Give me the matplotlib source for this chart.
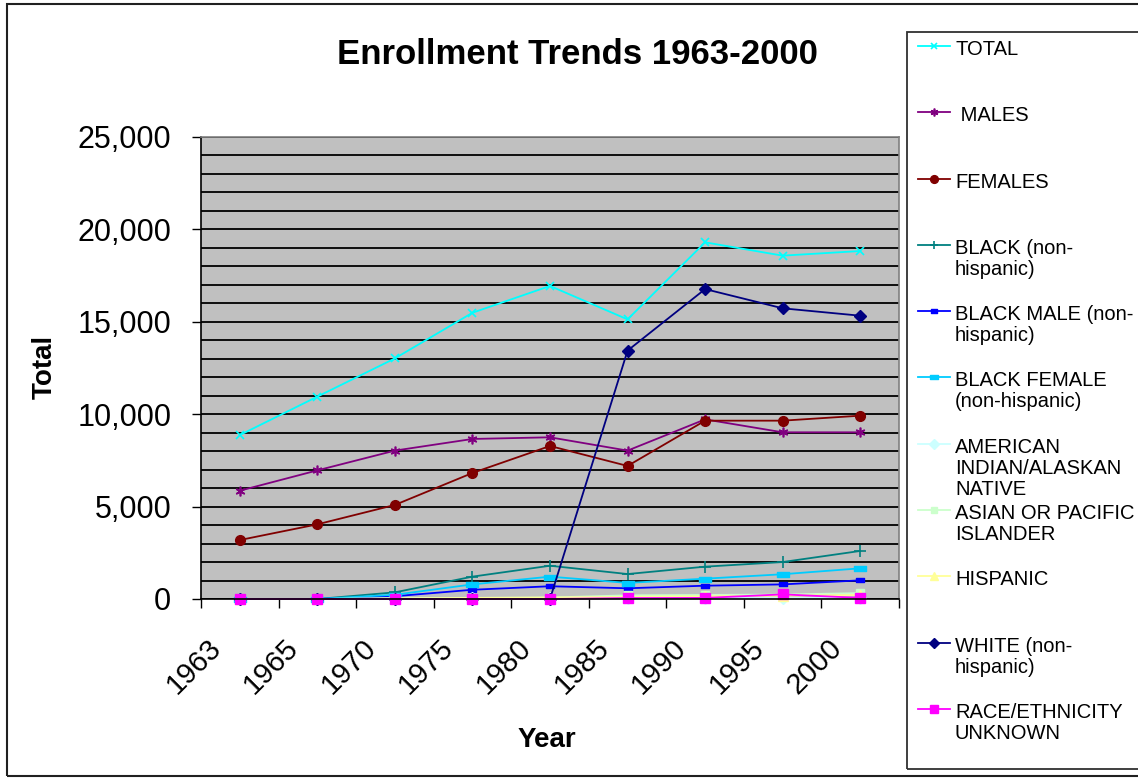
import matplotlib
matplotlib.use("Agg")
import matplotlib.pyplot as plt
import matplotlib.ticker as mticker
from matplotlib.lines import Line2D
from matplotlib.patches import Rectangle
from matplotlib.path import Path
import matplotlib.transforms as mtransforms

plt.rcParams['font.family'] = ['Liberation Sans', 'DejaVu Sans']

years = ["1963", "1965", "1970", "1975", "1980", "1985", "1990", "1995", "2000"]

total = [8870, 10950, 13020, 15490, 16940, 15130, 19300, 18580, 18830]
males = [5860, 6960, 8030, 8660, 8750, 8030, 9720, 9020, 9020]
females = [3190, 4040, 5090, 6820, 8280, 7200, 9650, 9650, 9920]
black = [0, 0, 360, 1210, 1800, 1350, 1750, 2000, 2600]
black_male = [0, 0, 150, 500, 690, 580, 720, 790, 1010]
black_female = [0, 0, 230, 790, 1210, 870, 1100, 1340, 1660]
american_indian = [0, 0, 20, 30, 40, 40, 50, 50, 60]
asian = [0, 0, 40, 60, 80, 200, 220, 240, 320]
hispanic = [0, 0, 30, 60, 80, 120, 150, 180, 220]
white = [0, 0, 0, 0, 0, 13440, 16770, 15730, 15330]
race_unknown = [0, 0, 0, 0, 0, 50, 60, 250, 60]

labels = ["TOTAL", " MALES", "FEMALES", "BLACK (non-\nhispanic)",
          "BLACK MALE (non-\nhispanic)", "BLACK FEMALE\n(non-hispanic)",
          "AMERICAN\nINDIAN/ALASKAN\nNATIVE", "ASIAN OR PACIFIC\nISLANDER",
          "HISPANIC", "WHITE (non-\nhispanic)", "RACE/ETHNICITY\nUNKNOWN"]

bar_small = Path([(-1, -0.45), (1, -0.45), (1, 0.45), (-1, 0.45), (-1, -0.45)], closed=True)

series = [
    (total, dict(color='#00FFFF', marker='x', ms=6, mew=1.2)),
    (males, dict(color='#800080', marker=(6, 2, 0), ms=7, mew=1.2)),
    (females, dict(color='#800000', marker='o', ms=7)),
    (black, dict(color='#008080', marker='+', ms=8, mew=1.2)),
    (black_male, dict(color='#0000FF', marker=bar_small, ms=6)),
    (black_female, dict(color='#00CCFF', marker=bar_small, ms=8)),
    (american_indian, dict(color='#CCFFFF', marker='D', ms=6)),
    (asian, dict(color='#CCFFCC', marker='s', ms=6)),
    (hispanic, dict(color='#FFFF99', marker='^', ms=7)),
    (white, dict(color='#000080', marker='D', ms=6)),
    (race_unknown, dict(color='#FF00FF', marker='s', ms=7)),
]

W, H = 1138, 778
fig = plt.figure(figsize=(W / 100, H / 100), dpi=100)

def fx(x):
    return x / W

def fy(y):
    return 1 - y / H

# outer frame
fig.patches.append(Rectangle((fx(7), fy(776)), fx(1140) - fx(7), fy(4) - fy(776),
                             transform=fig.transFigure, fill=False, ec='#202020', lw=1.5))

ax = fig.add_axes([fx(201), fy(599), fx(899) - fx(201), fy(137) - fy(599)])
ax.set_facecolor('#C0C0C0')

x = list(range(len(years)))
for vals, st in series:
    ax.plot(x, vals, lw=1.3, markeredgecolor=st['color'], markerfacecolor=st['color'],
            clip_on=False, **st)

ax.set_xlim(-0.5, len(years) - 0.5)
ax.set_ylim(0, 25000)
ax.yaxis.set_major_locator(mticker.MultipleLocator(5000))
ax.yaxis.set_minor_locator(mticker.MultipleLocator(1000))
ax.yaxis.set_major_formatter(mticker.FuncFormatter(lambda v, p: f"{int(v):,}"))
ax.grid(True, axis='y', which='both', color='black', lw=1.3)
ax.set_axisbelow(True)
ax.tick_params(axis='y', which='major', length=6.5, width=1, direction='out', labelsize=22, pad=15)
ax.tick_params(axis='y', which='minor', length=0)

ax.set_xticks(x)
ax.set_xticklabels(years)
ax.set_xticks([i - 0.5 for i in range(len(years) + 1)], minor=True)
ax.tick_params(axis='x', which='major', length=0, labelsize=21, pad=0)
ax.tick_params(axis='x', which='minor', length=6.5, width=1, direction='out')
offset = mtransforms.ScaledTranslation(-33 / 100, -35 / 100, fig.dpi_scale_trans)
for lab in ax.get_xticklabels():
    lab.set_rotation(45)
    lab.set_ha('right')
    lab.set_va('top')
    lab.set_rotation_mode('anchor')
    lab.set_transform(lab.get_transform() + offset)

for s in ['left', 'bottom']:
    ax.spines[s].set_color('black')
    ax.spines[s].set_linewidth(1.2)
for s in ['top', 'right']:
    ax.spines[s].set_color('#808080')
    ax.spines[s].set_linewidth(1.2)

fig.text(fx(577), fy(55), "Enrollment Trends 1963-2000", ha='center', va='center',
         fontsize=25, fontweight='bold')
fig.text(fx(45), fy(367), "Total", ha='center', va='center', rotation=90,
         fontsize=20, fontweight='bold')
fig.text(fx(547), fy(740), "Year", ha='center', va='center',
         fontsize=20, fontweight='bold')

# legend
fig.patches.append(Rectangle((fx(907), fy(769)), fx(1145) - fx(907), fy(32) - fy(769),
                             transform=fig.transFigure, fill=False, ec='#303030', lw=1.3))
for i, ((vals, st), lab) in enumerate(zip(series, labels)):
    ym = 46 + 66.3 * i
    fig.lines.append(Line2D([fx(918), fx(950)], [fy(ym), fy(ym)], transform=fig.transFigure,
                            color=st['color'], lw=1.3))
    fig.lines.append(Line2D([fx(934)], [fy(ym)], transform=fig.transFigure,
                            color=st['color'], marker=st['marker'],
                            ms=st['ms'] * 0.8, mew=st.get('mew', 1),
                            markeredgecolor=st['color'], markerfacecolor=st['color']))
    fig.text(fx(955), fy(ym - 6), lab, ha='left', va='top', fontsize=14.5, linespacing=1.13)

fig.savefig("out.png", dpi=100)
